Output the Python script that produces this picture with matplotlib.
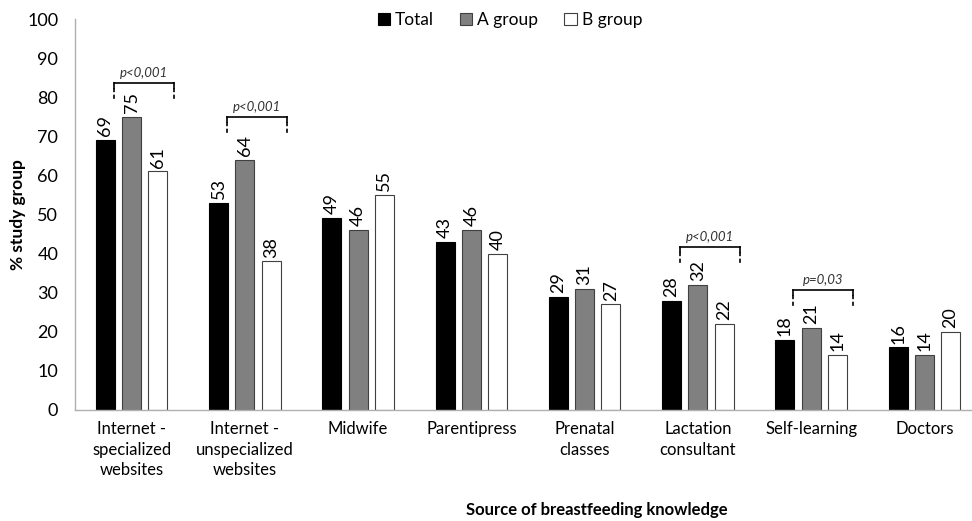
import matplotlib
matplotlib.use("Agg")
import matplotlib.pyplot as plt
import numpy as np
from matplotlib.patches import Patch

plt.rcParams['font.family'] = ['Lato', 'DejaVu Sans']

categories = ["Internet -\nspecialized\nwebsites", "Internet -\nunspecialized\nwebsites",
              "Midwife", "Parentipress", "Prenatal\nclasses", "Lactation\nconsultant",
              "Self-learning", "Doctors"]
total = [69, 53, 49, 43, 29, 28, 18, 16]
group_a = [75, 64, 46, 46, 31, 32, 21, 14]
group_b = [61, 38, 55, 40, 27, 22, 14, 20]
series_names = ["Total", "A group", "B group"]
# brackets: (category index, p-value text, bracket top value, bottom value)
brackets = [(0, "p<0,001", 83.6, 79.3), (1, "p<0,001", 74.9, 70.6),
            (5, "p<0,001", 41.7, 37.6), (6, "p=0,03", 30.7, 26.0)]

fig = plt.figure(figsize=(9.72, 5.21), dpi=100)
ax = fig.add_axes([75/972, 1-410/521, 906/972, (410-19)/521])

x = np.arange(len(categories))
w = 0.168
off = 0.232
colors = ["#000000", "#808080", "#ffffff"]
edges = ["#000000", "#404040", "#404040"]
for i, (vals, c, e) in enumerate(zip([total, group_a, group_b], colors, edges)):
    xs = x + (i - 1) * off
    ax.bar(xs, vals, width=w, color=c, edgecolor=e, linewidth=0.8, label=series_names[i])
    for xx, v in zip(xs, vals):
        ax.text(xx, v + 1.0, str(v), rotation=90, ha='center', va='bottom', fontsize=13)

for idx, txt, top, bot in brackets:
    l = idx - 0.16
    r = idx + 0.37
    ax.plot([l, r], [top, top], color='black', lw=1.2)
    ax.plot([l, l], [top, top - 1.3], color='black', lw=1.2)
    ax.plot([r, r], [top, top - 1.3], color='black', lw=1.2)
    ax.plot([l, l], [top - 1.3, bot], color='black', lw=1.2, ls=(0, (2.5, 1.5)))
    ax.plot([r, r], [top - 1.3, bot], color='black', lw=1.2, ls=(0, (2.5, 1.5)))
    ax.text((l + r) / 2, top + 1.0, txt, style='italic', ha='center', va='bottom',
            fontsize=9.5, color='#333333')

ax.set_xlim(-0.5, 7.5)
ax.set_ylim(0, 100)
ax.set_yticks(range(0, 101, 10))
ax.set_xticks(x)
ax.set_xticklabels(categories, fontsize=12, linespacing=1.35)
ax.tick_params(axis='y', labelsize=13, length=0, pad=12)
ax.tick_params(axis='x', length=0, pad=8)
for s in ['top', 'right']:
    ax.spines[s].set_visible(False)
for s in ['left', 'bottom']:
    ax.spines[s].set_color('#b0b0b0')
    ax.spines[s].set_linewidth(1)

ax.set_ylabel("% study group", fontsize=12.5, fontweight='bold', labelpad=1)
fig.text(597/972, 1-510/521, "Source of breastfeeding knowledge", ha='center', va='center',
         fontsize=12, fontweight='bold')

handles = [Patch(facecolor=c, edgecolor=e, linewidth=0.8) for c, e in zip(colors, edges)]
fig.legend(handles, series_names, loc='center', bbox_to_anchor=(510/972, 1-20/521), ncol=3,
           frameon=False, fontsize=12.5, handlelength=0.7, handleheight=0.7,
           handletextpad=0.3, columnspacing=1.5)

fig.savefig("out.png", dpi=100)
